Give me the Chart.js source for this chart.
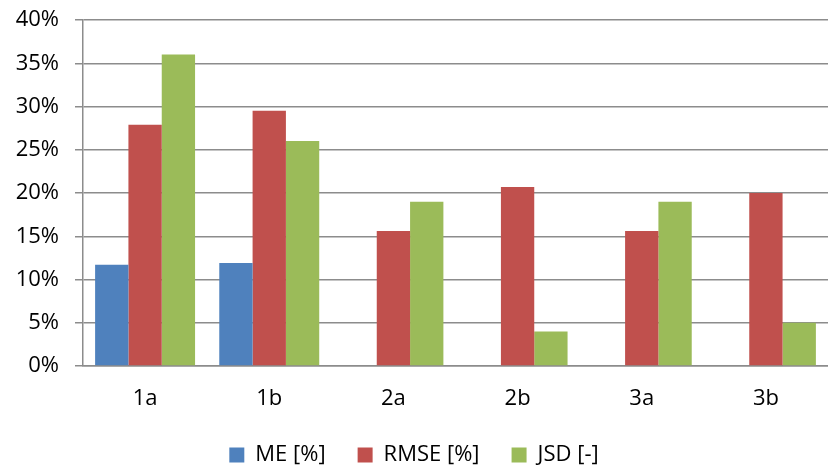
<!DOCTYPE html>
<html>
<head>
<meta charset="utf-8">
<script src="https://cdn.jsdelivr.net/npm/chart.js@4.4.1/dist/chart.umd.min.js"></script>
<style>
	html, body { margin: 0; padding: 0; background: #fff; }
	#wrap { width: 828px; height: 470px; }
</style>
</head>
<body>
<div id="wrap"><canvas id="chart"></canvas></div>
<script>
const categories = ["1a", "1b", "2a", "2b", "3a", "3b"];
const meValues = [11.7, 11.9, null, null, null, null];
const rmseValues = [27.9, 29.5, 15.6, 20.7, 15.6, 20.0];
const jsdValues = [36.0, 26.0, 19.0, 4.0, 19.0, 5.0];
const seriesLabels = ["ME [%]", "RMSE [%]", "JSD [-]"];
const yMin = 0;
const yMax = 40;
const yStep = 5;

const fontFamily = "'Open Sans', 'Noto Sans', sans-serif";
const fontSize = 22;
const gridColor = "#8c8c8c";

Chart.defaults.font.family = fontFamily;
Chart.defaults.color = "#000";

const ctx = document.getElementById("chart").getContext("2d");
new Chart(ctx, {
	type: "bar",
	data: {
		labels: categories,
		datasets: [
			{ label: seriesLabels[0], data: meValues, backgroundColor: "#4f81bd" },
			{ label: seriesLabels[1], data: rmseValues, backgroundColor: "#c0504d" },
			{ label: seriesLabels[2], data: jsdValues, backgroundColor: "#9bbb59" },
		],
	},
	options: {
		responsive: true,
		maintainAspectRatio: false,
		animation: false,
		// negative bottom padding pulls the legend row down without shrinking its item gaps
		layout: { padding: { top: 20, right: 0, bottom: -6, left: 0 } },
		datasets: {
			bar: {
				categoryPercentage: 0.805,
				barPercentage: 1.0,
				borderWidth: 0,
			},
		},
		plugins: {
			legend: {
				display: true,
				position: "bottom",
				labels: {
					boxWidth: 15,
					boxHeight: 15,
					padding: 32,
					font: { size: fontSize },
					color: "#000",
				},
			},
			tooltip: { enabled: false },
		},
		scales: {
			x: {
				afterFit: scale => { scale.height = 46; },
				grid: { drawOnChartArea: false, drawTicks: false },
				border: { display: true, color: gridColor, width: 1.5 },
				ticks: { padding: 20, font: { size: fontSize }, color: "#000" },
			},
			y: {
				min: yMin,
				max: yMax,
				afterFit: scale => {
					scale.width = 83;
					// tick padding would otherwise push the 40% line down
					scale.paddingTop = 0;
					scale.paddingBottom = 0;
				},
				grid: { color: gridColor, lineWidth: 1.5, tickLength: 8, drawTicks: true },
				border: { display: true, color: gridColor, width: 1.5 },
				ticks: {
					stepSize: yStep,
					padding: 16,
					font: { size: fontSize },
					color: "#000",
					callback: value => value + "%",
				},
			},
		},
	},
});
</script>
</body>
</html>
